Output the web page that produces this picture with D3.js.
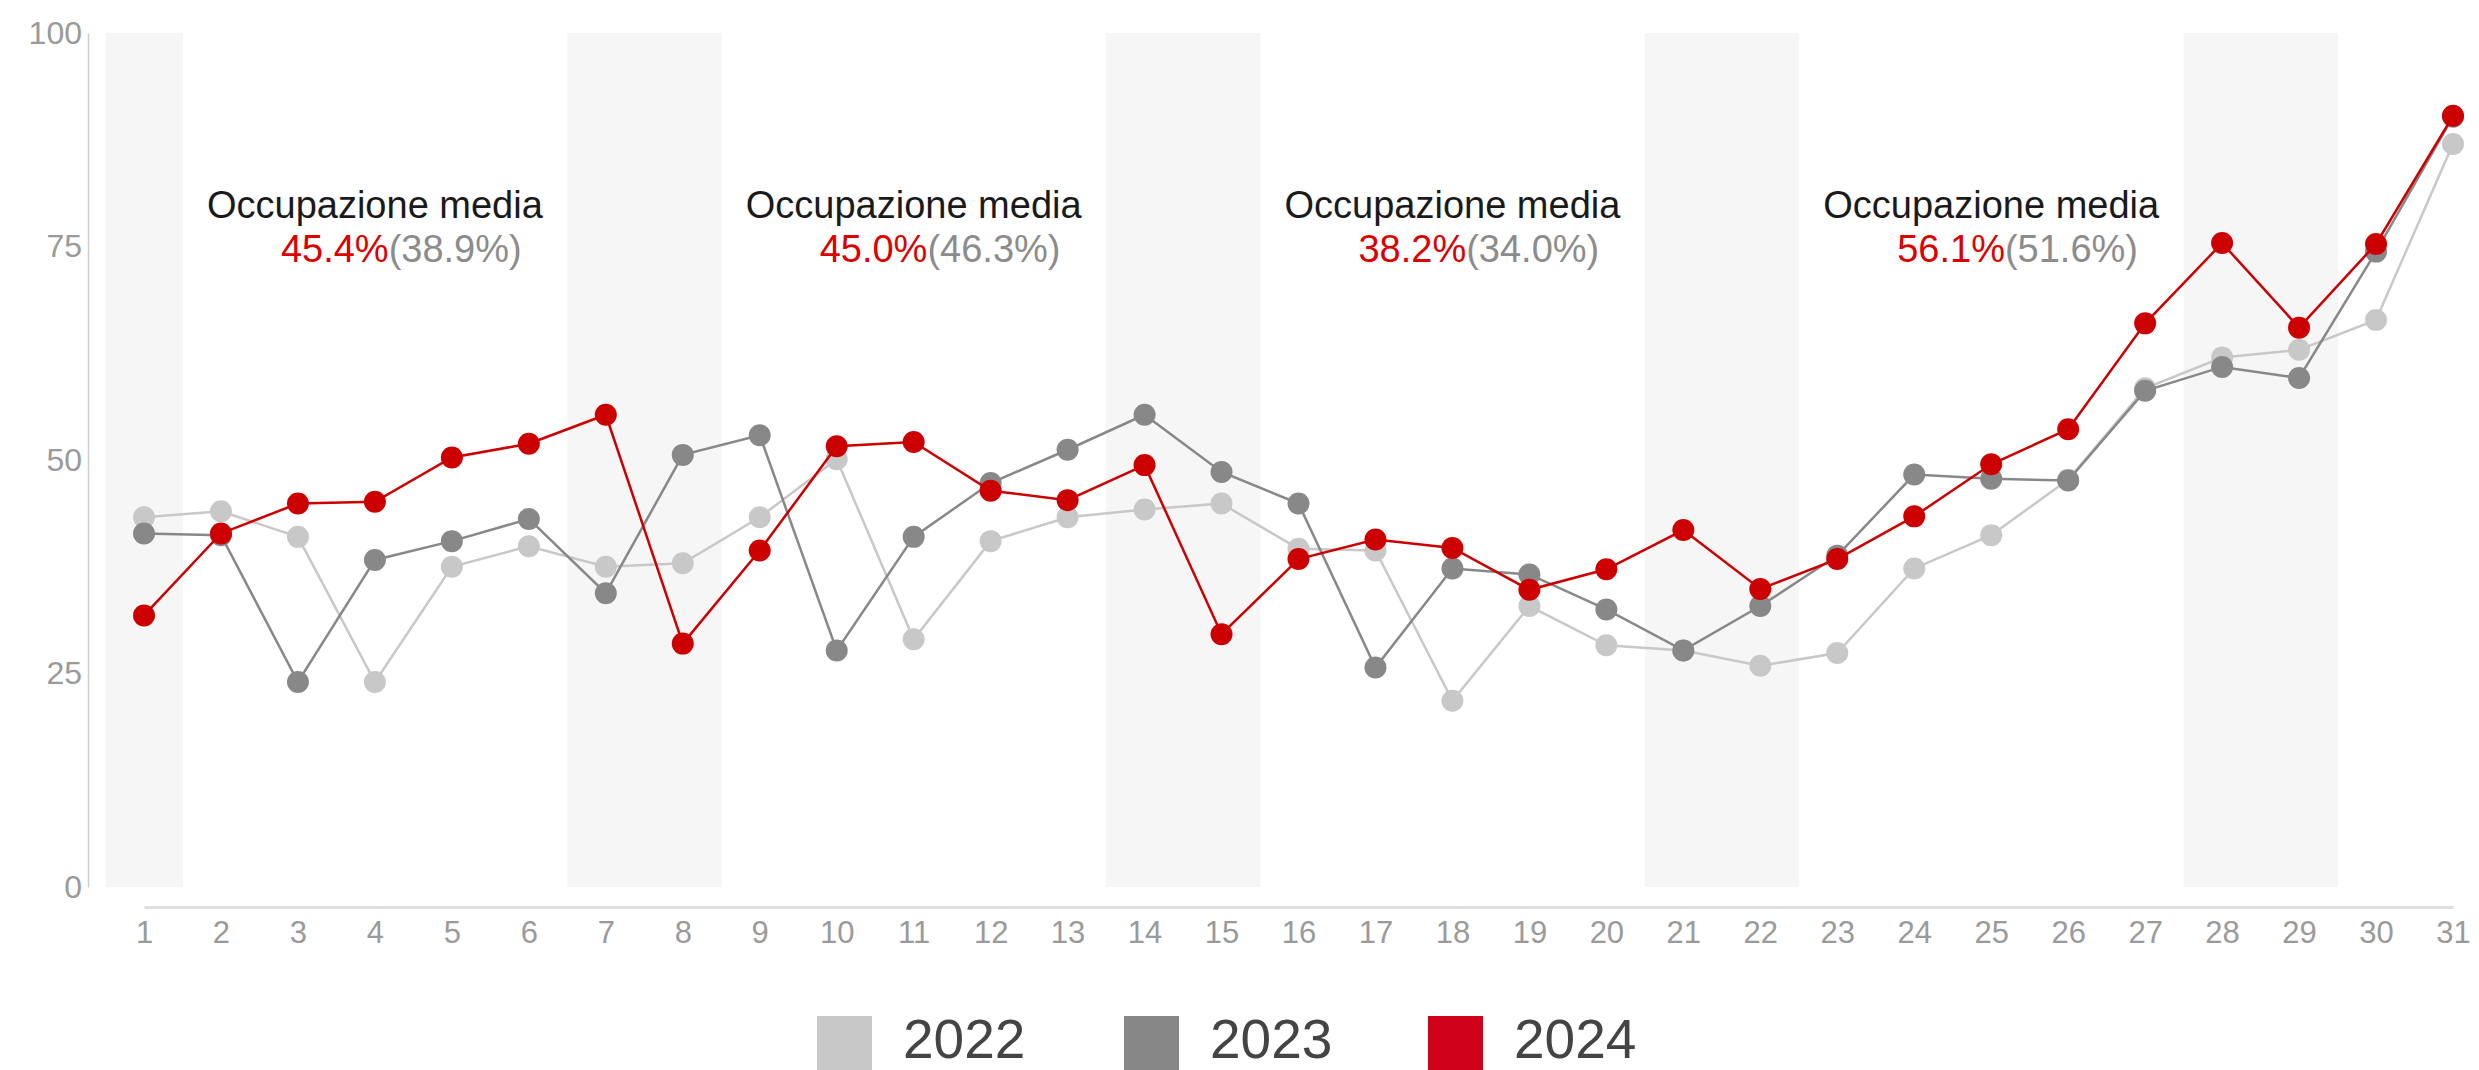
<!DOCTYPE html>
<html>
<head>
<meta charset="utf-8">
<script src="https://cdn.jsdelivr.net/npm/d3@7"></script>
<style>
  body { margin: 0; background: #fff; }
  svg text { font-family: "Liberation Sans", Arial, sans-serif; }
</style>
</head>
<body>
<div id="chart"></div>
<script>
// days of the month
var days = d3.range(1, 32)

// weekend days (shaded)
var weekendDays = [1, 7, 8, 14, 15, 21, 22, 28, 29]

var series2022 = [43.3, 44.0, 41.0, 24.0, 37.5, 39.9, 37.5, 37.9, 43.3, 50.1,
  29.0, 40.5, 43.3, 44.2, 44.9, 39.6, 39.4, 21.8, 32.9, 28.3,
  27.7, 25.9, 27.4, 37.3, 41.2, 47.7, 58.4, 62.0, 62.9, 66.4, 87.0]
var series2023 = [41.4, 41.2, 24.0, 38.3, 40.5, 43.1, 34.4, 50.6, 52.9, 27.7,
  41.0, 47.3, 51.2, 55.3, 48.6, 44.9, 25.7, 37.3, 36.6, 32.5,
  27.7, 32.9, 38.8, 48.3, 47.8, 47.6, 58.1, 60.9, 59.6, 74.4, 90.2]
var series2024 = [31.8, 41.4, 44.9, 45.1, 50.3, 51.9, 55.3, 28.5, 39.4, 51.6,
  52.1, 46.4, 45.3, 49.4, 29.6, 38.4, 40.7, 39.7, 34.8, 37.2,
  41.8, 34.9, 38.4, 43.4, 49.5, 53.6, 66.0, 75.4, 65.5, 75.3, 90.3]

var years = ['2022', '2023', '2024']
var yearColors = ['#c8c8c8', '#888888', '#cc0000']
var legendColors = ['#c8c8c8', '#878787', '#d0021b']

// weekly average annotations
var noteDays = [4, 11, 18, 25]
var noteCurrent = ['45.4%', '45.0%', '38.2%', '56.1%']
var notePrevious = ['(38.9%)', '(46.3%)', '(34.0%)', '(51.6%)']

var yTicks = [0, 25, 50, 75, 100]

var width = 2479
var height = 1070

var svg = d3.select('#chart')
  .append('svg')
  .attr('width', width)
  .attr('height', height)

var x = d3.scaleLinear()
  .domain([1, 31])
  .range([144, 2453])

var y = d3.scaleLinear()
  .domain([0, 100])
  .range([887, 33])

var step = x(2) - x(1)

// weekend bands, one rect per day
svg.append('g')
  .selectAll('rect')
  .data(weekendDays)
  .enter()
  .append('rect')
  .attr('x', function (d) { return x(d) - step / 2 })
  .attr('y', y(100))
  .attr('width', step + 0.5)
  .attr('height', y(0) - y(100))
  .attr('fill', '#f4f4f4')
  .attr('fill-opacity', 0.85)

// y axis
var yAxis = svg.append('g')
  .attr('transform', 'translate(88,0)')
  .call(d3.axisLeft(y).tickValues(yTicks).tickSize(0).tickPadding(6))
yAxis.select('.domain')
  .attr('stroke', '#cfcfcf')
  .attr('stroke-width', 1.5)
yAxis.selectAll('text')
  .attr('fill', '#9a9a9a')
  .attr('font-size', 32)

// x axis
var xAxis = svg.append('g')
  .attr('transform', 'translate(0,907)')
  .call(d3.axisBottom(x).tickValues(days).tickSize(0).tickPadding(14).tickFormat(d3.format('d')))
xAxis.select('.domain')
  .attr('stroke', '#dedede')
  .attr('stroke-width', 3)
xAxis.selectAll('text')
  .attr('fill', '#9a9a9a')
  .attr('font-size', 31)

// lines and points
var allSeries = [series2022, series2023, series2024]
var line = d3.line()
  .x(function (d, i) { return x(days[i]) })
  .y(function (d) { return y(d) })

allSeries.forEach(function (values, k) {
  var g = svg.append('g')
  g.append('path')
    .datum(values)
    .attr('d', line)
    .attr('fill', 'none')
    .attr('stroke', yearColors[k])
    .attr('stroke-width', 2.5)
  g.selectAll('circle')
    .data(values)
    .enter()
    .append('circle')
    .attr('cx', function (d, i) { return x(days[i]) })
    .attr('cy', function (d) { return y(d) })
    .attr('r', 11)
    .attr('fill', yearColors[k])
})

// annotations
var notes = svg.append('g')
noteDays.forEach(function (d, i) {
  notes.append('text')
    .attr('x', x(d))
    .attr('y', 218)
    .attr('text-anchor', 'middle')
    .attr('font-size', 38)
    .attr('fill', '#1a1a1a')
    .text('Occupazione media')
  var t = notes.append('text')
    .attr('x', x(d) - 94)
    .attr('y', 262)
    .attr('font-size', 38)
  t.append('tspan').attr('fill', '#dd0000').text(noteCurrent[i])
  t.append('tspan').attr('fill', '#8c8c8c').text(notePrevious[i])
})

// legend
var legendX = [817, 1124, 1428]
var legend = svg.append('g')
years.forEach(function (yr, i) {
  legend.append('rect')
    .attr('x', legendX[i])
    .attr('y', 1016)
    .attr('width', 55)
    .attr('height', 60)
    .attr('fill', legendColors[i])
  legend.append('text')
    .attr('x', legendX[i] + 86)
    .attr('y', 1058)
    .attr('font-size', 55)
    .attr('fill', '#444')
    .text(yr)
})
</script>
</body>
</html>
